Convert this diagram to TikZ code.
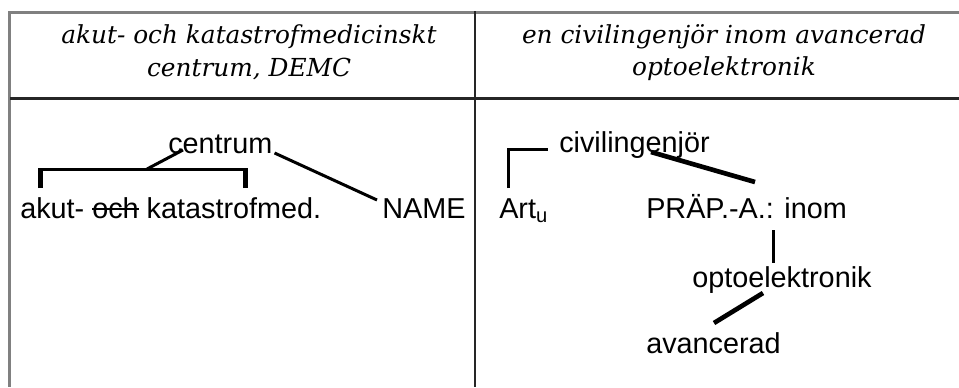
\documentclass[tikz,border=0pt]{standalone}
\usepackage{fontspec}
\setmainfont{Liberation Sans}
\newfontfamily\headfont{DejaVu Serif}
\usetikzlibrary{calc}
% struck-through word
\newcommand\strikeword[1]{\setbox0\hbox{#1}\rlap{\rule[0.27em]{\wd0}{0.07em}}\box0{}}
\begin{document}
\begin{tikzpicture}[x=0.75pt,y=-0.75pt,
  frame/.style={line width=2.25pt,color=black!50},
  rule/.style={line width=2pt,color=black!85},
  head/.style={inner sep=0pt,align=center,font=\headfont\itshape\fontsize{18.6}{24.5}\selectfont},
  word/.style={inner sep=0pt,anchor=base west,font=\fontsize{21.6}{24}\selectfont},
  link/.style={line width=2.25pt,line cap=butt},
  heavy/.style={line width=3.5pt,line cap=butt}]
\useasboundingbox (0,0) rectangle (959,387);
\fill[white] (0,0) rectangle (959,387);

% table frame and rules
\draw[frame] (8,12) -- (959,12);
\draw[frame] (9,11) -- (9,387);
\draw[rule] (10,98.5) -- (959,98.5);
\draw[rule] (475,11) -- (475,387);

% header cells
\node[head] (hl) at (249,52.5) {akut- och katastrofmedicinskt\\centrum, DEMC};
\node[head] (hr) at (724,52.5) {en civilingenjör inom avancerad\\optoelektronik};

% left tree
\node[word] (cen) at (168,153) {centrum};
\node[word] (akut) at (20,218) {akut- \strikeword{och} katastrofmed.};
\node[word] (nm) at (382,218) {NAME};
\coordinate (bl) at (40,188);
\coordinate (br) at (245,188);
\coordinate (bm) at (147,169);
\draw[link] (bl |- bm) -- (br |- bm);
\draw[line width=3.75pt] (bl) -- ([yshift=0.9pt]bl |- bm);
\draw[line width=3.75pt] (br) -- ([yshift=0.9pt]br |- bm);
\draw[link] (bm) -- ($(cen.base west)+(15,-3)$);
\draw[link] ($(cen.base east)+(2,0)$) -- ($(nm.base west)+(-5,-18)$);

% right tree
\node[word] (civ) at (559,152) {civilingenjör};
\node[word] (art) at (499,218) {Art\textsubscript{u}};
\node[word] (prap) at (646,218) {PRÄP.-A.: inom};
\node[word] (opto) at (692,287) {optoelektronik};
\node[word] (avan) at (646,353) {avancerad};
\draw[link] ($(art.base west)+(9,-30)$) |- ($(civ.base west)+(-11,-3)$);
\draw[heavy] ($(civ.base west)+(92,0)$) -- ($(prap.base west)+(109,-36)$);
\draw[link] ($(prap.base west)+(127,12)$) -- ($(opto.base west)+(81,-24)$);
\draw[heavy] ($(opto.base west)+(71,6)$) -- ($(avan.base west)+(68,-30)$);
\end{tikzpicture}
\end{document}
